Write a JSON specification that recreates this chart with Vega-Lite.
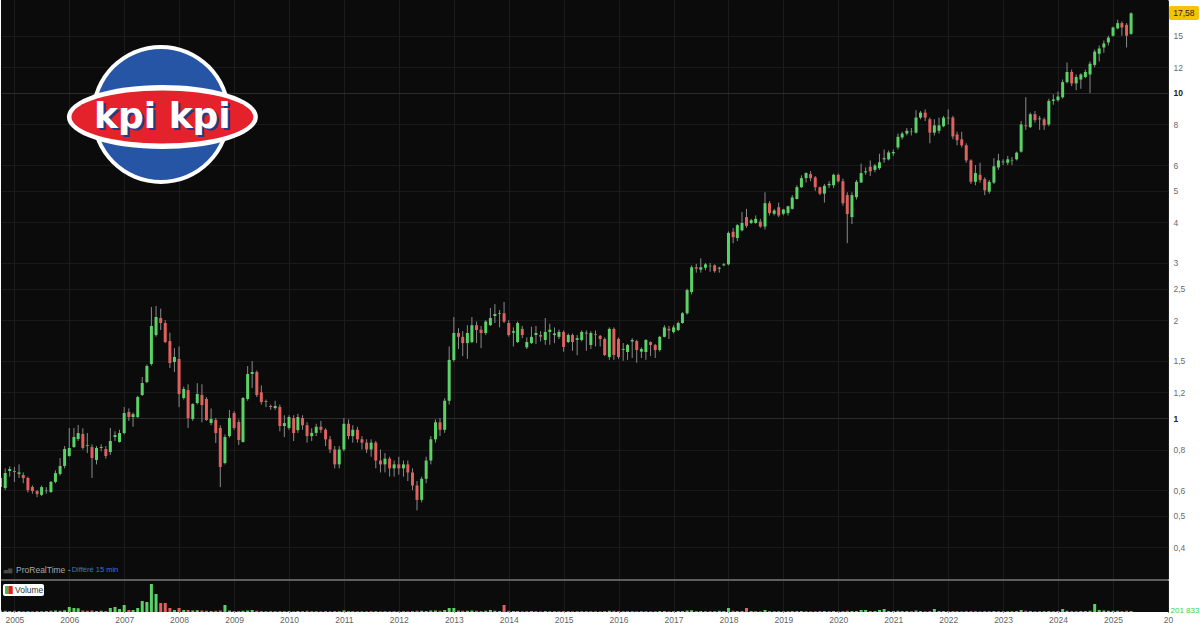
{
  "$schema": "https://vega.github.io/schema/vega-lite/v6.json",
  "background": "#ffffff",
  "padding": 0,
  "spacing": 0,
  "config": {
    "view": {"fill": "#0b0b0b", "stroke": null},
    "font": "Liberation Sans"
  },
  "data": {"values": [
    {"d":"2004-10-01","o":0.613,"h":0.66,"l":0.6,"c":0.654,"v":300000},
    {"d":"2004-11-01","o":0.609,"h":0.7,"l":0.6,"c":0.677,"v":250000},
    {"d":"2004-12-01","o":0.687,"h":0.71,"l":0.66,"c":0.697,"v":200000},
    {"d":"2005-01-01","o":0.687,"h":0.707,"l":0.636,"c":0.682,"v":250000},
    {"d":"2005-02-01","o":0.673,"h":0.72,"l":0.654,"c":0.68,"v":200000},
    {"d":"2005-03-01","o":0.668,"h":0.68,"l":0.63,"c":0.654,"v":150000},
    {"d":"2005-04-01","o":0.654,"h":0.66,"l":0.59,"c":0.6,"v":200000},
    {"d":"2005-05-01","o":0.613,"h":0.62,"l":0.585,"c":0.596,"v":150000},
    {"d":"2005-06-01","o":0.596,"h":0.6,"l":0.571,"c":0.584,"v":200000},
    {"d":"2005-07-01","o":0.58,"h":0.62,"l":0.575,"c":0.613,"v":150000},
    {"d":"2005-08-01","o":0.596,"h":0.613,"l":0.585,"c":0.598,"v":200000},
    {"d":"2005-09-01","o":0.592,"h":0.64,"l":0.588,"c":0.636,"v":250000},
    {"d":"2005-10-01","o":0.636,"h":0.69,"l":0.63,"c":0.677,"v":300000},
    {"d":"2005-11-01","o":0.673,"h":0.753,"l":0.665,"c":0.712,"v":250000},
    {"d":"2005-12-01","o":0.712,"h":0.82,"l":0.7,"c":0.803,"v":350000},
    {"d":"2006-01-01","o":0.764,"h":0.932,"l":0.76,"c":0.809,"v":1000000},
    {"d":"2006-02-01","o":0.814,"h":0.932,"l":0.81,"c":0.874,"v":800000},
    {"d":"2006-03-01","o":0.862,"h":0.952,"l":0.85,"c":0.899,"v":750000},
    {"d":"2006-04-01","o":0.893,"h":0.93,"l":0.8,"c":0.809,"v":300000},
    {"d":"2006-05-01","o":0.826,"h":0.899,"l":0.78,"c":0.82,"v":250000},
    {"d":"2006-06-01","o":0.814,"h":0.83,"l":0.654,"c":0.753,"v":300000},
    {"d":"2006-07-01","o":0.743,"h":0.82,"l":0.72,"c":0.809,"v":200000},
    {"d":"2006-08-01","o":0.809,"h":0.83,"l":0.79,"c":0.814,"v":250000},
    {"d":"2006-09-01","o":0.803,"h":0.82,"l":0.75,"c":0.764,"v":200000},
    {"d":"2006-10-01","o":0.786,"h":0.932,"l":0.77,"c":0.85,"v":800000},
    {"d":"2006-11-01","o":0.874,"h":0.91,"l":0.85,"c":0.886,"v":1000000},
    {"d":"2006-12-01","o":0.844,"h":0.92,"l":0.84,"c":0.899,"v":600000},
    {"d":"2007-01-01","o":0.899,"h":1.081,"l":0.89,"c":1.036,"v":1400000},
    {"d":"2007-02-01","o":1.043,"h":1.07,"l":0.98,"c":1.007,"v":400000},
    {"d":"2007-03-01","o":1.007,"h":1.04,"l":0.94,"c":1.028,"v":400000},
    {"d":"2007-04-01","o":1.007,"h":1.17,"l":1.0,"c":1.16,"v":800000},
    {"d":"2007-05-01","o":1.177,"h":1.337,"l":1.17,"c":1.281,"v":2200000},
    {"d":"2007-06-01","o":1.29,"h":1.46,"l":1.28,"c":1.445,"v":2000000},
    {"d":"2007-07-01","o":1.466,"h":2.196,"l":1.45,"c":1.919,"v":5600000},
    {"d":"2007-08-01","o":1.8,"h":2.212,"l":1.78,"c":2.045,"v":3600000},
    {"d":"2007-09-01","o":2.031,"h":2.17,"l":1.865,"c":1.96,"v":1800000},
    {"d":"2007-10-01","o":1.96,"h":2.0,"l":1.7,"c":1.713,"v":1800000},
    {"d":"2007-11-01","o":1.725,"h":1.83,"l":1.425,"c":1.476,"v":800000},
    {"d":"2007-12-01","o":1.487,"h":1.64,"l":1.385,"c":1.541,"v":400000},
    {"d":"2008-01-01","o":1.519,"h":1.66,"l":1.08,"c":1.185,"v":800000},
    {"d":"2008-02-01","o":1.152,"h":1.25,"l":1.14,"c":1.228,"v":400000},
    {"d":"2008-03-01","o":1.219,"h":1.27,"l":0.932,"c":1.0,"v":400000},
    {"d":"2008-04-01","o":0.993,"h":1.11,"l":0.98,"c":1.104,"v":300000},
    {"d":"2008-05-01","o":1.112,"h":1.28,"l":1.1,"c":1.185,"v":350000},
    {"d":"2008-06-01","o":1.177,"h":1.27,"l":0.97,"c":1.096,"v":300000},
    {"d":"2008-07-01","o":1.144,"h":1.16,"l":0.98,"c":0.986,"v":250000},
    {"d":"2008-08-01","o":0.965,"h":1.07,"l":0.95,"c":0.993,"v":200000},
    {"d":"2008-09-01","o":0.986,"h":1.0,"l":0.838,"c":0.899,"v":250000},
    {"d":"2008-10-01","o":0.932,"h":0.95,"l":0.613,"c":0.707,"v":300000},
    {"d":"2008-11-01","o":0.727,"h":0.89,"l":0.72,"c":0.874,"v":1400000},
    {"d":"2008-12-01","o":0.88,"h":1.058,"l":0.87,"c":1.0,"v":300000},
    {"d":"2009-01-01","o":1.036,"h":1.05,"l":0.92,"c":0.932,"v":200000},
    {"d":"2009-02-01","o":0.972,"h":0.99,"l":0.826,"c":0.856,"v":200000},
    {"d":"2009-03-01","o":0.844,"h":1.16,"l":0.84,"c":1.152,"v":250000},
    {"d":"2009-04-01","o":1.144,"h":1.445,"l":1.13,"c":1.366,"v":300000},
    {"d":"2009-05-01","o":1.366,"h":1.497,"l":1.237,"c":1.385,"v":400000},
    {"d":"2009-06-01","o":1.385,"h":1.4,"l":1.16,"c":1.177,"v":250000},
    {"d":"2009-07-01","o":1.2,"h":1.26,"l":1.1,"c":1.12,"v":200000},
    {"d":"2009-08-01","o":1.12,"h":1.14,"l":1.08,"c":1.125,"v":150000},
    {"d":"2009-09-01","o":1.089,"h":1.1,"l":1.06,"c":1.081,"v":200000},
    {"d":"2009-10-01","o":1.073,"h":1.13,"l":1.06,"c":1.089,"v":150000},
    {"d":"2009-11-01","o":1.081,"h":1.1,"l":0.91,"c":0.945,"v":200000},
    {"d":"2009-12-01","o":0.945,"h":1.02,"l":0.874,"c":0.965,"v":150000},
    {"d":"2010-01-01","o":0.932,"h":1.02,"l":0.92,"c":1.007,"v":200000},
    {"d":"2010-02-01","o":1.0,"h":1.02,"l":0.85,"c":0.899,"v":150000},
    {"d":"2010-03-01","o":0.918,"h":1.03,"l":0.9,"c":1.007,"v":200000},
    {"d":"2010-04-01","o":1.0,"h":1.02,"l":0.92,"c":0.95,"v":200000},
    {"d":"2010-05-01","o":0.95,"h":0.97,"l":0.84,"c":0.88,"v":250000},
    {"d":"2010-06-01","o":0.88,"h":0.93,"l":0.85,"c":0.9,"v":150000},
    {"d":"2010-07-01","o":0.9,"h":0.96,"l":0.88,"c":0.94,"v":150000},
    {"d":"2010-08-01","o":0.94,"h":0.98,"l":0.9,"c":0.92,"v":150000},
    {"d":"2010-09-01","o":0.92,"h":0.93,"l":0.82,"c":0.86,"v":200000},
    {"d":"2010-10-01","o":0.86,"h":0.88,"l":0.78,"c":0.8,"v":150000},
    {"d":"2010-11-01","o":0.8,"h":0.82,"l":0.7,"c":0.72,"v":200000},
    {"d":"2010-12-01","o":0.72,"h":0.82,"l":0.7,"c":0.8,"v":150000},
    {"d":"2011-01-01","o":0.8,"h":1.0,"l":0.79,"c":0.96,"v":300000},
    {"d":"2011-02-01","o":0.96,"h":0.99,"l":0.86,"c":0.88,"v":200000},
    {"d":"2011-03-01","o":0.88,"h":0.95,"l":0.84,"c":0.92,"v":150000},
    {"d":"2011-04-01","o":0.92,"h":0.94,"l":0.84,"c":0.86,"v":150000},
    {"d":"2011-05-01","o":0.86,"h":0.88,"l":0.8,"c":0.84,"v":150000},
    {"d":"2011-06-01","o":0.84,"h":0.86,"l":0.78,"c":0.8,"v":150000},
    {"d":"2011-07-01","o":0.8,"h":0.86,"l":0.76,"c":0.84,"v":150000},
    {"d":"2011-08-01","o":0.84,"h":0.85,"l":0.7,"c":0.74,"v":200000},
    {"d":"2011-09-01","o":0.74,"h":0.8,"l":0.68,"c":0.72,"v":150000},
    {"d":"2011-10-01","o":0.72,"h":0.78,"l":0.68,"c":0.75,"v":150000},
    {"d":"2011-11-01","o":0.75,"h":0.76,"l":0.66,"c":0.7,"v":150000},
    {"d":"2011-12-01","o":0.7,"h":0.74,"l":0.66,"c":0.72,"v":150000},
    {"d":"2012-01-01","o":0.72,"h":0.76,"l":0.67,"c":0.7,"v":150000},
    {"d":"2012-02-01","o":0.7,"h":0.74,"l":0.66,"c":0.72,"v":150000},
    {"d":"2012-03-01","o":0.72,"h":0.74,"l":0.64,"c":0.68,"v":150000},
    {"d":"2012-04-01","o":0.68,"h":0.7,"l":0.6,"c":0.62,"v":200000},
    {"d":"2012-05-01","o":0.62,"h":0.64,"l":0.52,"c":0.56,"v":250000},
    {"d":"2012-06-01","o":0.56,"h":0.66,"l":0.55,"c":0.65,"v":250000},
    {"d":"2012-07-01","o":0.65,"h":0.76,"l":0.63,"c":0.74,"v":200000},
    {"d":"2012-08-01","o":0.74,"h":0.88,"l":0.72,"c":0.86,"v":300000},
    {"d":"2012-09-01","o":0.86,"h":0.99,"l":0.84,"c":0.97,"v":300000},
    {"d":"2012-10-01","o":0.97,"h":1.0,"l":0.88,"c":0.92,"v":250000},
    {"d":"2012-11-01","o":0.92,"h":1.15,"l":0.9,"c":1.13,"v":400000},
    {"d":"2012-12-01","o":1.13,"h":1.66,"l":1.1,"c":1.51,"v":800000},
    {"d":"2013-01-01","o":1.508,"h":2.045,"l":1.49,"c":1.826,"v":800000},
    {"d":"2013-02-01","o":1.826,"h":1.89,"l":1.63,"c":1.777,"v":300000},
    {"d":"2013-03-01","o":1.777,"h":1.85,"l":1.55,"c":1.7,"v":250000},
    {"d":"2013-04-01","o":1.7,"h":1.93,"l":1.52,"c":1.826,"v":250000},
    {"d":"2013-05-01","o":1.713,"h":2.045,"l":1.7,"c":1.93,"v":300000},
    {"d":"2013-06-01","o":1.93,"h":1.98,"l":1.7,"c":1.865,"v":250000},
    {"d":"2013-07-01","o":1.87,"h":1.92,"l":1.64,"c":1.826,"v":200000},
    {"d":"2013-08-01","o":1.826,"h":2.0,"l":1.8,"c":1.98,"v":250000},
    {"d":"2013-09-01","o":1.93,"h":2.18,"l":1.92,"c":2.031,"v":400000},
    {"d":"2013-10-01","o":2.06,"h":2.24,"l":1.96,"c":2.09,"v":250000},
    {"d":"2013-11-01","o":2.09,"h":2.15,"l":1.9,"c":2.1,"v":200000},
    {"d":"2013-12-01","o":2.1,"h":2.275,"l":1.96,"c":1.98,"v":1400000},
    {"d":"2014-01-01","o":1.96,"h":2.0,"l":1.78,"c":1.8,"v":250000},
    {"d":"2014-02-01","o":1.83,"h":1.9,"l":1.66,"c":1.85,"v":200000},
    {"d":"2014-03-01","o":1.713,"h":1.98,"l":1.7,"c":1.96,"v":200000},
    {"d":"2014-04-01","o":1.88,"h":1.92,"l":1.76,"c":1.8,"v":150000},
    {"d":"2014-05-01","o":1.65,"h":1.77,"l":1.63,"c":1.713,"v":150000},
    {"d":"2014-06-01","o":1.7,"h":1.91,"l":1.69,"c":1.777,"v":200000},
    {"d":"2014-07-01","o":1.8,"h":1.92,"l":1.69,"c":1.826,"v":150000},
    {"d":"2014-08-01","o":1.8,"h":1.85,"l":1.72,"c":1.78,"v":150000},
    {"d":"2014-09-01","o":1.738,"h":2.03,"l":1.68,"c":1.84,"v":200000},
    {"d":"2014-10-01","o":1.84,"h":1.95,"l":1.68,"c":1.87,"v":150000},
    {"d":"2014-11-01","o":1.8,"h":1.9,"l":1.7,"c":1.82,"v":150000},
    {"d":"2014-12-01","o":1.777,"h":1.87,"l":1.75,"c":1.84,"v":150000},
    {"d":"2015-01-01","o":1.84,"h":1.86,"l":1.6,"c":1.654,"v":200000},
    {"d":"2015-02-01","o":1.713,"h":1.82,"l":1.7,"c":1.8,"v":150000},
    {"d":"2015-03-01","o":1.8,"h":1.82,"l":1.61,"c":1.713,"v":150000},
    {"d":"2015-04-01","o":1.74,"h":1.8,"l":1.56,"c":1.76,"v":150000},
    {"d":"2015-05-01","o":1.738,"h":1.86,"l":1.72,"c":1.84,"v":150000},
    {"d":"2015-06-01","o":1.82,"h":1.86,"l":1.61,"c":1.83,"v":150000},
    {"d":"2015-07-01","o":1.677,"h":1.85,"l":1.63,"c":1.826,"v":150000},
    {"d":"2015-08-01","o":1.81,"h":1.86,"l":1.66,"c":1.8,"v":150000},
    {"d":"2015-09-01","o":1.79,"h":1.8,"l":1.66,"c":1.75,"v":150000},
    {"d":"2015-10-01","o":1.75,"h":1.77,"l":1.55,"c":1.563,"v":200000},
    {"d":"2015-11-01","o":1.541,"h":1.9,"l":1.51,"c":1.88,"v":250000},
    {"d":"2015-12-01","o":1.88,"h":1.9,"l":1.51,"c":1.563,"v":250000},
    {"d":"2016-01-01","o":1.75,"h":1.77,"l":1.52,"c":1.541,"v":200000},
    {"d":"2016-02-01","o":1.62,"h":1.7,"l":1.5,"c":1.63,"v":150000},
    {"d":"2016-03-01","o":1.596,"h":1.69,"l":1.51,"c":1.677,"v":150000},
    {"d":"2016-04-01","o":1.72,"h":1.76,"l":1.53,"c":1.738,"v":150000},
    {"d":"2016-05-01","o":1.725,"h":1.74,"l":1.48,"c":1.619,"v":150000},
    {"d":"2016-06-01","o":1.6,"h":1.65,"l":1.53,"c":1.63,"v":150000},
    {"d":"2016-07-01","o":1.596,"h":1.75,"l":1.51,"c":1.738,"v":150000},
    {"d":"2016-08-01","o":1.713,"h":1.72,"l":1.55,"c":1.677,"v":150000},
    {"d":"2016-09-01","o":1.677,"h":1.69,"l":1.53,"c":1.619,"v":150000},
    {"d":"2016-10-01","o":1.619,"h":1.79,"l":1.6,"c":1.777,"v":200000},
    {"d":"2016-11-01","o":1.777,"h":1.93,"l":1.77,"c":1.9,"v":200000},
    {"d":"2016-12-01","o":1.88,"h":1.92,"l":1.75,"c":1.86,"v":150000},
    {"d":"2017-01-01","o":1.84,"h":1.93,"l":1.82,"c":1.9,"v":150000},
    {"d":"2017-02-01","o":1.865,"h":1.98,"l":1.85,"c":1.96,"v":200000},
    {"d":"2017-03-01","o":1.96,"h":2.12,"l":1.95,"c":2.1,"v":200000},
    {"d":"2017-04-01","o":2.1,"h":2.5,"l":2.08,"c":2.475,"v":300000},
    {"d":"2017-05-01","o":2.44,"h":2.95,"l":2.4,"c":2.91,"v":350000},
    {"d":"2017-06-01","o":2.91,"h":2.98,"l":2.8,"c":2.88,"v":200000},
    {"d":"2017-07-01","o":2.86,"h":3.1,"l":2.8,"c":2.91,"v":200000},
    {"d":"2017-08-01","o":2.9,"h":3.0,"l":2.85,"c":2.97,"v":150000},
    {"d":"2017-09-01","o":2.93,"h":3.0,"l":2.82,"c":2.94,"v":150000},
    {"d":"2017-10-01","o":2.95,"h":2.97,"l":2.8,"c":2.83,"v":200000},
    {"d":"2017-11-01","o":2.88,"h":2.92,"l":2.8,"c":2.9,"v":250000},
    {"d":"2017-12-01","o":2.95,"h":3.0,"l":2.93,"c":2.97,"v":200000},
    {"d":"2018-01-01","o":2.97,"h":3.75,"l":2.95,"c":3.71,"v":800000},
    {"d":"2018-02-01","o":3.74,"h":3.84,"l":3.45,"c":3.6,"v":250000},
    {"d":"2018-03-01","o":3.58,"h":3.95,"l":3.5,"c":3.92,"v":200000},
    {"d":"2018-04-01","o":3.78,"h":4.3,"l":3.75,"c":3.98,"v":200000},
    {"d":"2018-05-01","o":4.15,"h":4.4,"l":3.85,"c":3.9,"v":800000},
    {"d":"2018-06-01","o":3.98,"h":4.1,"l":3.95,"c":4.06,"v":200000},
    {"d":"2018-07-01","o":3.98,"h":4.2,"l":3.96,"c":4.1,"v":150000},
    {"d":"2018-08-01","o":4.02,"h":4.1,"l":3.85,"c":3.88,"v":150000},
    {"d":"2018-09-01","o":3.88,"h":4.95,"l":3.8,"c":4.58,"v":400000},
    {"d":"2018-10-01","o":4.58,"h":4.65,"l":4.2,"c":4.27,"v":200000},
    {"d":"2018-11-01","o":4.25,"h":4.4,"l":4.2,"c":4.35,"v":150000},
    {"d":"2018-12-01","o":4.45,"h":4.6,"l":4.15,"c":4.2,"v":200000},
    {"d":"2019-01-01","o":4.25,"h":4.4,"l":4.2,"c":4.38,"v":150000},
    {"d":"2019-02-01","o":4.27,"h":4.5,"l":4.2,"c":4.48,"v":150000},
    {"d":"2019-03-01","o":4.4,"h":4.85,"l":4.38,"c":4.77,"v":200000},
    {"d":"2019-04-01","o":4.72,"h":5.2,"l":4.7,"c":5.13,"v":200000},
    {"d":"2019-05-01","o":5.13,"h":5.58,"l":5.1,"c":5.47,"v":200000},
    {"d":"2019-06-01","o":5.47,"h":5.7,"l":5.3,"c":5.67,"v":150000},
    {"d":"2019-07-01","o":5.63,"h":5.75,"l":5.35,"c":5.47,"v":150000},
    {"d":"2019-08-01","o":5.5,"h":5.55,"l":5.0,"c":5.13,"v":150000},
    {"d":"2019-09-01","o":5.13,"h":5.15,"l":4.85,"c":4.9,"v":200000},
    {"d":"2019-10-01","o":4.9,"h":5.25,"l":4.6,"c":5.18,"v":200000},
    {"d":"2019-11-01","o":5.2,"h":5.35,"l":5.1,"c":5.25,"v":150000},
    {"d":"2019-12-01","o":5.2,"h":5.65,"l":5.1,"c":5.6,"v":200000},
    {"d":"2020-01-01","o":5.6,"h":5.65,"l":5.3,"c":5.35,"v":150000},
    {"d":"2020-02-01","o":5.35,"h":5.45,"l":4.5,"c":4.58,"v":200000},
    {"d":"2020-03-01","o":4.85,"h":4.95,"l":3.45,"c":4.24,"v":250000},
    {"d":"2020-04-01","o":4.15,"h":4.95,"l":3.95,"c":4.85,"v":200000},
    {"d":"2020-05-01","o":4.78,"h":5.4,"l":4.7,"c":5.33,"v":200000},
    {"d":"2020-06-01","o":5.3,"h":6.06,"l":5.3,"c":5.67,"v":400000},
    {"d":"2020-07-01","o":5.7,"h":5.9,"l":5.6,"c":5.74,"v":400000},
    {"d":"2020-08-01","o":5.93,"h":6.2,"l":5.55,"c":5.74,"v":200000},
    {"d":"2020-09-01","o":5.8,"h":6.05,"l":5.7,"c":5.98,"v":200000},
    {"d":"2020-10-01","o":5.87,"h":6.5,"l":5.8,"c":6.12,"v":400000},
    {"d":"2020-11-01","o":6.25,"h":6.7,"l":6.1,"c":6.3,"v":600000},
    {"d":"2020-12-01","o":6.25,"h":6.65,"l":6.2,"c":6.56,"v":200000},
    {"d":"2021-01-01","o":6.52,"h":6.7,"l":6.4,"c":6.58,"v":200000},
    {"d":"2021-02-01","o":6.8,"h":7.5,"l":6.7,"c":7.33,"v":250000},
    {"d":"2021-03-01","o":7.3,"h":7.6,"l":7.2,"c":7.5,"v":200000},
    {"d":"2021-04-01","o":7.5,"h":7.8,"l":7.4,"c":7.65,"v":200000},
    {"d":"2021-05-01","o":7.6,"h":7.8,"l":7.4,"c":7.62,"v":150000},
    {"d":"2021-06-01","o":7.55,"h":8.85,"l":7.5,"c":8.4,"v":300000},
    {"d":"2021-07-01","o":8.4,"h":8.8,"l":8.3,"c":8.7,"v":200000},
    {"d":"2021-08-01","o":8.7,"h":8.9,"l":8.2,"c":8.4,"v":150000},
    {"d":"2021-09-01","o":8.3,"h":8.4,"l":7.0,"c":7.55,"v":200000},
    {"d":"2021-10-01","o":7.55,"h":8.3,"l":7.4,"c":7.95,"v":600000},
    {"d":"2021-11-01","o":7.65,"h":8.4,"l":7.5,"c":7.95,"v":200000},
    {"d":"2021-12-01","o":7.9,"h":8.5,"l":7.85,"c":8.4,"v":200000},
    {"d":"2022-01-01","o":8.4,"h":8.9,"l":8.0,"c":8.35,"v":200000},
    {"d":"2022-02-01","o":8.4,"h":8.5,"l":7.2,"c":7.35,"v":200000},
    {"d":"2022-03-01","o":7.45,"h":7.6,"l":6.9,"c":7.16,"v":200000},
    {"d":"2022-04-01","o":7.2,"h":7.6,"l":6.8,"c":6.9,"v":150000},
    {"d":"2022-05-01","o":6.9,"h":7.0,"l":6.1,"c":6.2,"v":200000},
    {"d":"2022-06-01","o":6.2,"h":6.25,"l":5.25,"c":5.33,"v":200000},
    {"d":"2022-07-01","o":5.33,"h":6.0,"l":5.2,"c":5.67,"v":150000},
    {"d":"2022-08-01","o":5.6,"h":6.1,"l":5.3,"c":5.4,"v":150000},
    {"d":"2022-09-01","o":5.43,"h":5.5,"l":4.85,"c":5.02,"v":200000},
    {"d":"2022-10-01","o":4.97,"h":5.4,"l":4.9,"c":5.33,"v":150000},
    {"d":"2022-11-01","o":5.3,"h":6.3,"l":5.25,"c":5.95,"v":200000},
    {"d":"2022-12-01","o":5.9,"h":6.5,"l":5.8,"c":6.2,"v":150000},
    {"d":"2023-01-01","o":6.12,"h":6.25,"l":6.0,"c":6.15,"v":150000},
    {"d":"2023-02-01","o":6.1,"h":6.4,"l":6.0,"c":6.25,"v":150000},
    {"d":"2023-03-01","o":6.18,"h":6.35,"l":6.0,"c":6.2,"v":150000},
    {"d":"2023-04-01","o":6.25,"h":6.6,"l":6.2,"c":6.55,"v":200000},
    {"d":"2023-05-01","o":6.6,"h":8.2,"l":6.55,"c":8.0,"v":400000},
    {"d":"2023-06-01","o":7.95,"h":9.7,"l":7.7,"c":7.9,"v":250000},
    {"d":"2023-07-01","o":7.85,"h":8.7,"l":7.8,"c":8.6,"v":200000},
    {"d":"2023-08-01","o":8.6,"h":8.8,"l":8.1,"c":8.25,"v":150000},
    {"d":"2023-09-01","o":8.3,"h":8.5,"l":7.7,"c":8.35,"v":150000},
    {"d":"2023-10-01","o":8.3,"h":8.4,"l":7.7,"c":7.95,"v":200000},
    {"d":"2023-11-01","o":8.0,"h":9.6,"l":7.9,"c":9.45,"v":200000},
    {"d":"2023-12-01","o":9.45,"h":9.9,"l":9.2,"c":9.55,"v":150000},
    {"d":"2024-01-01","o":9.5,"h":10.1,"l":9.4,"c":9.75,"v":200000},
    {"d":"2024-02-01","o":9.7,"h":11.0,"l":9.6,"c":10.8,"v":600000},
    {"d":"2024-03-01","o":10.8,"h":12.4,"l":10.7,"c":11.6,"v":250000},
    {"d":"2024-04-01","o":11.6,"h":11.8,"l":10.5,"c":10.7,"v":200000},
    {"d":"2024-05-01","o":10.7,"h":11.4,"l":10.2,"c":11.2,"v":150000},
    {"d":"2024-06-01","o":11.0,"h":11.5,"l":10.3,"c":11.4,"v":200000},
    {"d":"2024-07-01","o":11.2,"h":11.8,"l":11.1,"c":11.6,"v":200000},
    {"d":"2024-08-01","o":11.4,"h":12.5,"l":10.0,"c":12.3,"v":250000},
    {"d":"2024-09-01","o":12.2,"h":13.6,"l":12.0,"c":13.4,"v":1600000},
    {"d":"2024-10-01","o":13.2,"h":14.0,"l":12.5,"c":13.7,"v":400000},
    {"d":"2024-11-01","o":13.8,"h":14.5,"l":13.3,"c":14.2,"v":300000},
    {"d":"2024-12-01","o":14.3,"h":15.0,"l":14.0,"c":14.8,"v":250000},
    {"d":"2025-01-01","o":15.0,"h":16.0,"l":14.9,"c":15.9,"v":250000},
    {"d":"2025-02-01","o":15.8,"h":16.8,"l":15.7,"c":16.4,"v":250000},
    {"d":"2025-03-01","o":16.4,"h":16.6,"l":15.0,"c":15.9,"v":200000},
    {"d":"2025-04-01","o":16.2,"h":16.4,"l":13.8,"c":15.0,"v":250000},
    {"d":"2025-05-01","o":15.2,"h":17.7,"l":15.1,"c":17.58,"v":201833}
  ]},
  "vconcat": [
    {
      "width": 1167,
      "height": 579,
      "layer": [
        {
          "mark": {"type": "rule", "color": "#8a8a8a", "strokeWidth": 1, "clip": true},
          "encoding": {
            "x": {"field": "d", "type": "temporal",
              "scale": {"type": "utc", "nice": false, "padding": 0, "domain": [{"year": 2004, "month": 10, "date": 4, "utc": true}, {"year": 2026, "month": 1, "date": 1, "hours": 12, "utc": true}]},
              "axis": {"title": null, "labels": false, "ticks": false, "domain": false, "grid": true, "gridColor": "#1c1c1c", "tickCount": {"interval": "year", "step": 1}, "minExtent": 0, "maxExtent": 0}},
            "y": {"field": "l", "type": "quantitative",
              "scale": {"type": "log", "domain": [0.3197, 19.32], "nice": false, "zero": false, "padding": 0},
              "axis": {"orient": "right", "title": null,
                "values": [0.4, 0.5, 0.6, 0.8, 1, 1.2, 1.5, 2, 2.5, 3, 4, 5, 6, 8, 10, 12, 15],
                "format": "~g", "labelExpr": "replace(datum.label, '.', ',')",
                "ticks": false, "domain": false, "grid": true,
                "gridColor": {"condition": {"test": "datum.value == 1 || datum.value == 10", "value": "#2c2c2c"}, "value": "#1a1a1a"},
                "labelColor": {"condition": {"test": "datum.value == 1 || datum.value == 10", "value": "#222222"}, "value": "#6a6a6a"},
                "labelFontWeight": {"condition": {"test": "datum.value == 1 || datum.value == 10", "value": "bold"}, "value": "normal"},
                "labelFont": "Liberation Sans", "labelFontSize": 8.5, "labelPadding": 5,
                "labelAlign": "left", "labelBaseline": "middle",
                "minExtent": 33, "maxExtent": 33}},
            "y2": {"field": "h"}
          }
        },
        {
          "mark": {"type": "bar", "size": 3, "clip": true},
          "encoding": {
            "x": {"field": "d", "type": "temporal"},
            "y": {"field": "o", "type": "quantitative"},
            "y2": {"field": "c"},
            "color": {"condition": {"test": "datum.c >= datum.o", "value": "#5bd268"}, "value": "#e0605e"}
          }
        },
        {
          "data": {"values": [{}]},
          "mark": {"type": "point", "shape": "circle", "filled": true, "opacity": 1, "color": "#ffffff", "size": 19321},
          "encoding": {
            "x": {"datum": {"year": 2007, "month": 9, "date": 2, "utc": true}, "type": "temporal"},
            "y": {"datum": 8.59}
          }
        },
        {
          "data": {"values": [{}]},
          "mark": {"type": "point", "shape": "circle", "filled": true, "opacity": 1, "color": "#2755a6", "size": 17161},
          "encoding": {
            "x": {"datum": {"year": 2007, "month": 9, "date": 2, "utc": true}, "type": "temporal"},
            "y": {"datum": 8.59}
          }
        },
        {
          "data": {"values": [{}]},
          "mark": {"type": "point", "shape": "M-1,0A1,0.335,0,1,1,1,0A1,0.335,0,1,1,-1,0Z", "filled": true, "opacity": 1, "color": "#ffffff", "size": 36481},
          "encoding": {
            "x": {"datum": {"year": 2007, "month": 9, "date": 12, "utc": true}, "type": "temporal"},
            "y": {"datum": 8.44}
          }
        },
        {
          "data": {"values": [{}]},
          "mark": {"type": "point", "shape": "M-1,0A1,0.291,0,1,1,1,0A1,0.291,0,1,1,-1,0Z", "filled": true, "opacity": 1, "color": "#e3222b", "size": 33124},
          "encoding": {
            "x": {"datum": {"year": 2007, "month": 9, "date": 12, "utc": true}, "type": "temporal"},
            "y": {"datum": 8.44}
          }
        },
        {
          "data": {"values": [{}]},
          "mark": {"type": "text", "text": "kpi kpi", "font": "DejaVu Sans", "fontWeight": "bold", "fontSize": 36, "color": "#1f3f8c", "align": "center", "baseline": "alphabetic", "dx": 2, "dy": 13},
          "encoding": {
            "x": {"datum": {"year": 2007, "month": 9, "date": 12, "utc": true}, "type": "temporal"},
            "y": {"datum": 8.44}
          }
        },
        {
          "data": {"values": [{}]},
          "mark": {"type": "text", "text": "kpi kpi", "font": "DejaVu Sans", "fontWeight": "bold", "fontSize": 36, "color": "#ffffff", "align": "center", "baseline": "alphabetic", "dx": 0, "dy": 11},
          "encoding": {
            "x": {"datum": {"year": 2007, "month": 9, "date": 12, "utc": true}, "type": "temporal"},
            "y": {"datum": 8.44}
          }
        },
        {
          "data": {"values": [{}]},
          "mark": {"type": "text", "text": "▄▆", "font": "DejaVu Sans", "fontSize": 5.5, "color": "#4a4a4a", "align": "left", "baseline": "middle"},
          "encoding": {
            "x": {"datum": {"year": 2004, "month": 10, "date": 22, "utc": true}, "type": "temporal"},
            "y": {"datum": 0.3406}
          }
        },
        {
          "data": {"values": [{}]},
          "mark": {"type": "text", "text": "ProRealTime -", "font": "Liberation Sans", "fontSize": 8.5, "color": "#a8a8a8", "align": "left", "baseline": "middle"},
          "encoding": {
            "x": {"datum": {"year": 2005, "month": 1, "date": 12, "utc": true}, "type": "temporal"},
            "y": {"datum": 0.3406}
          }
        },
        {
          "data": {"values": [{}]},
          "mark": {"type": "text", "text": "Différé 15 min", "font": "Liberation Sans", "fontSize": 7.5, "color": "#3f74d0", "align": "left", "baseline": "middle"},
          "encoding": {
            "x": {"datum": {"year": 2006, "month": 1, "date": 17, "utc": true}, "type": "temporal"},
            "y": {"datum": 0.3406}
          }
        },
        {
          "data": {"values": [{}]},
          "mark": {"type": "rect", "color": "#f5c400", "cornerRadius": 2},
          "encoding": {
            "x": {"datum": {"year": 2026, "month": 1, "date": 8, "utc": true}, "type": "temporal"},
            "x2": {"datum": {"year": 2026, "month": 7, "date": 26, "utc": true}},
            "y": {"datum": 18.52},
            "y2": {"datum": 16.77}
          }
        },
        {
          "data": {"values": [{}]},
          "mark": {"type": "text", "text": "17,58", "font": "Liberation Sans", "fontSize": 8.5, "color": "#222222", "align": "center", "baseline": "middle"},
          "encoding": {
            "x": {"datum": {"year": 2026, "month": 4, "date": 17, "utc": true}, "type": "temporal"},
            "y": {"datum": 17.6}
          }
        }
      ]
    },
    {
      "width": 1167,
      "height": 32,
      "layer": [
        {
          "mark": {"type": "bar", "size": 3, "clip": true},
          "encoding": {
            "x": {"field": "d", "type": "temporal",
              "scale": {"type": "utc", "nice": false, "padding": 0, "domain": [{"year": 2004, "month": 10, "date": 4, "utc": true}, {"year": 2026, "month": 1, "date": 1, "hours": 12, "utc": true}]},
              "axis": {"title": null, "format": "%Y", "tickCount": {"interval": "year", "step": 1}, "ticks": false, "domain": false, "grid": true, "gridColor": "#1c1c1c",
                "labelExpr": "datum.label == '2026' ? '20' : datum.label",
                "labelColor": "#666666", "labelFont": "Liberation Sans", "labelFontSize": 8.5, "labelPadding": 3, "labelBaseline": "top",
                "labelFlush": false, "labelOverlap": false, "labelBound": false, "minExtent": 12, "maxExtent": 12}},
            "y": {"field": "v", "type": "quantitative",
              "scale": {"domain": [0, 6400000], "nice": false, "zero": true},
              "axis": {"orient": "right", "title": null, "values": [201833], "labelExpr": "'201 833'", "ticks": false, "domain": false, "grid": false,
                "labelColor": "#3ccf4e", "labelFont": "Liberation Sans", "labelFontSize": 8, "labelPadding": 2, "labelAlign": "left", "labelBaseline": "middle",
                "minExtent": 33, "maxExtent": 33}},
            "color": {"condition": {"test": "datum.c >= datum.o", "value": "#5bd268"}, "value": "#e0605e"}
          }
        },
        {
          "data": {"values": [{}]},
          "mark": {"type": "rule", "color": "#5e5e5e", "strokeWidth": 2},
          "encoding": {"y": {"datum": 6400000}}
        },
        {
          "data": {"values": [{}]},
          "mark": {"type": "rect", "color": "#ffffff", "cornerRadius": 2},
          "encoding": {
            "x": {"datum": {"year": 2004, "month": 10, "date": 17, "utc": true}, "type": "temporal"},
            "x2": {"datum": {"year": 2005, "month": 7, "date": 17, "utc": true}},
            "y": {"datum": 5600000},
            "y2": {"datum": 3200000}
          }
        },
        {
          "data": {"values": [{}]},
          "mark": {"type": "rect", "color": "#3fbf3f"},
          "encoding": {
            "x": {"datum": {"year": 2004, "month": 10, "date": 31, "utc": true}, "type": "temporal"},
            "x2": {"datum": {"year": 2004, "month": 11, "date": 22, "utc": true}},
            "y": {"datum": 5200000},
            "y2": {"datum": 3600000}
          }
        },
        {
          "data": {"values": [{}]},
          "mark": {"type": "rect", "color": "#e02020"},
          "encoding": {
            "x": {"datum": {"year": 2004, "month": 11, "date": 22, "utc": true}, "type": "temporal"},
            "x2": {"datum": {"year": 2004, "month": 12, "date": 21, "utc": true}},
            "y": {"datum": 5200000},
            "y2": {"datum": 3600000}
          }
        },
        {
          "data": {"values": [{}]},
          "mark": {"type": "text", "text": "Volume", "font": "Liberation Sans", "fontSize": 8.5, "color": "#333333", "align": "left", "baseline": "middle"},
          "encoding": {
            "x": {"datum": {"year": 2005, "month": 1, "date": 5, "utc": true}, "type": "temporal"},
            "y": {"datum": 4400000}
          }
        }
      ]
    }
  ]
}
